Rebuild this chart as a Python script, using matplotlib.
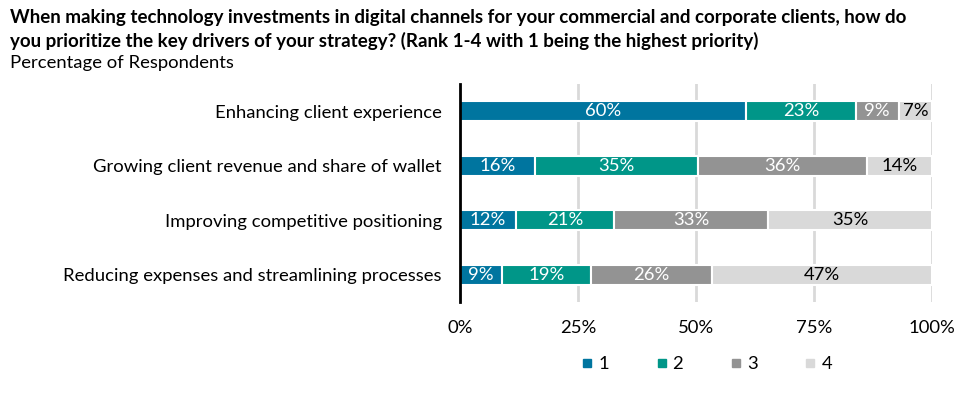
import matplotlib
matplotlib.use("Agg")
import matplotlib.pyplot as plt
import numpy as np
from matplotlib.lines import Line2D

plt.rcParams['font.family'] = ['Lato', 'DejaVu Sans']

categories = ["Enhancing client experience",
              "Growing client revenue and share of wallet",
              "Improving competitive positioning",
              "Reducing expenses and streamlining processes"]
rank_labels = ["1", "2", "3", "4"]
rank1 = [60, 16, 12, 9]
rank2 = [23, 35, 21, 19]
rank3 = [9, 36, 33, 26]
rank4 = [7, 14, 35, 47]
xticks = [0, 25, 50, 75, 100]
xtick_labels = ["0%", "25%", "50%", "75%", "100%"]

colors = ["#00759F", "#009688", "#939393", "#D9D9D9"]
text_colors = ["white", "white", "white", "black"]

series = np.array([rank1, rank2, rank3, rank4], dtype=float)
totals = series.sum(axis=0)
shares = series / totals * 100

FS = 13.3

fig = plt.figure(figsize=(9.6, 3.94), dpi=100)
ax = fig.add_axes([460/960, 1-302/394, 472/960, 218/394])

y = np.arange(len(categories))
left = np.zeros(len(categories))
for i in range(4):
    bars = ax.barh(y, shares[i], left=left, height=0.37, color=colors[i],
                   edgecolor="white", linewidth=1.5, zorder=3)
    for j, b in enumerate(bars):
        ax.text(left[j] + shares[i][j] / 2, y[j], f"{series[i][j]:.0f}%",
                ha="center", va="center", color=text_colors[i], fontsize=FS, zorder=4)
    left += shares[i]

ax.set_ylim(3.5, -0.5)
ax.set_xlim(0, 100)
ax.set_yticks(y)
ax.set_yticklabels(categories, fontsize=FS)
ax.set_xticks(xticks)
ax.set_xticklabels(xtick_labels, fontsize=FS)
ax.tick_params(axis="both", length=0)
ax.tick_params(axis="y", pad=13)
ax.tick_params(axis="x", pad=13)
for s in ["top", "right", "bottom"]:
    ax.spines[s].set_visible(False)
ax.spines["left"].set_linewidth(2)
ax.spines["left"].set_color("black")
ax.spines["left"].set_zorder(5)
ax.xaxis.grid(True, color="#D9D9D9", linewidth=2, zorder=0)
ax.set_axisbelow(True)

handles = [Line2D([], [], marker="s", linestyle="none", markersize=6,
                  markerfacecolor=c, markeredgecolor=c) for c in colors]
fig.legend(handles, rank_labels, loc="center", bbox_to_anchor=(705/960, 1-364/394),
           ncol=4, frameon=False, fontsize=FS, handletextpad=0.1,
           columnspacing=2.35, handlelength=1.0)

fig.text(10/960, 1-17/394,
         "When making technology investments in digital channels for your commercial and corporate clients, how do",
         fontsize=13.5, fontweight="bold", ha="left", va="center")
fig.text(10/960, 1-41/394,
         "you prioritize the key drivers of your strategy? (Rank 1-4 with 1 being the highest priority)",
         fontsize=13.5, fontweight="bold", ha="left", va="center")
fig.text(10/960, 1-63/394, "Percentage of Respondents", fontsize=FS, ha="left", va="center")

fig.savefig("out.png", dpi=100)
